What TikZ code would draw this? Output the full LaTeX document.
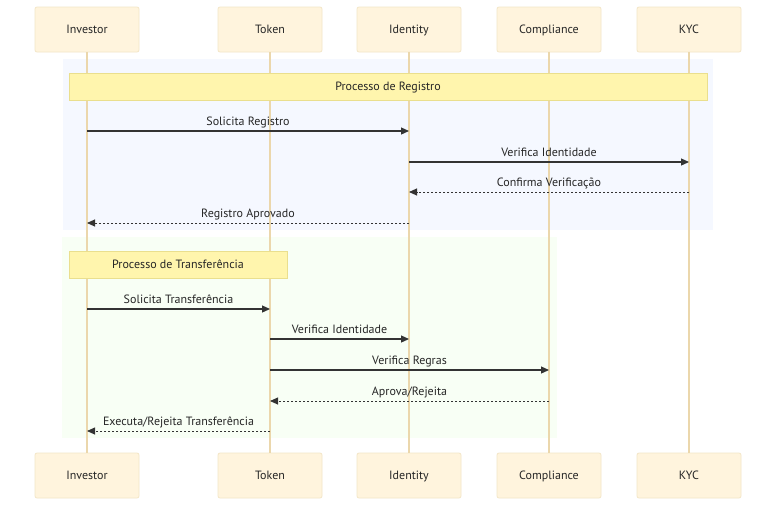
\documentclass[tikz,border=0pt]{standalone}
\usepackage{fontspec}
\setmainfont{PT Sans}
\usetikzlibrary{arrows.meta}
\definecolor{actorfill}{HTML}{FFF4DD}
\definecolor{actorline}{HTML}{F3E6C8}
\definecolor{lifeline}{HTML}{EBD7AC}
\definecolor{notefill}{HTML}{FFF5AD}
\definecolor{noteline}{HTML}{EADF8E}
\definecolor{regbg}{HTML}{F5F8FF}
\definecolor{trbg}{HTML}{F8FFF5}
\definecolor{msg}{HTML}{333333}
\begin{document}
\begin{tikzpicture}[x=1pt,y=-1pt,
  actor/.style={draw=actorline,fill=actorfill,rounded corners=2pt,line width=0.8pt,
    minimum width=104pt,minimum height=45pt,inner sep=0pt,text height=8.5pt,text depth=0pt,
    font=\fontsize{12}{14}\selectfont,text=black!85},
  lline/.style={draw=lifeline,line width=1.2pt},
  notebox/.style={draw=noteline,fill=notefill,line width=0.8pt,inner sep=0pt,text height=8.5pt,text depth=0pt,
    font=\fontsize{12}{14}\selectfont,text=black!85},
  sync/.style={draw=msg,line width=1.2pt,-{Triangle[length=8pt,width=7pt]}},
  reply/.style={draw=msg,line width=0.9pt,dash pattern=on 2pt off 2pt,-{Triangle[length=8pt,width=7pt]}},
  mlabel/.style={font=\fontsize{12}{14}\selectfont,text=black!85,anchor=base},
]
\useasboundingbox (0,0) rectangle (784,512);
\fill[white] (0,0) rectangle (784,512);

% group backgrounds
\fill[regbg] (63,59) rectangle (713,230);
\fill[trbg] (62,237) rectangle (557,438);

% participant columns
\foreach \n/\t/\x in {inv/Investor/87, tok/Token/270, idn/Identity/409, cmp/Compliance/549, kyc/KYC/689}{
  \node[actor] (\n T) at (\x,29.5) {\t};
  \node[actor] (\n B) at (\x,475.5) {\t};
  \draw[lline] (\n T.south) -- (\n B.north);
  \coordinate (\n) at (\x,0);
}

% section headers
\node[notebox,minimum width=638pt,minimum height=27pt] (hreg) at (388,86.5) {Processo de Registro};
\node[notebox,minimum width=218pt,minimum height=27pt] (htr) at (178,264.5) {Processo de Transferência};

% message arrow with its label above the middle
\newcommand{\msgline}[5]{% style, from, to, y, label
  \draw[#1] (#2 |- 0,#4) -- (#3 |- 0,#4);
  \path (#2 |- 0,#4) -- (#3 |- 0,#4) node[midway,mlabel,yshift=6pt] {#5};
}
% registration
\msgline{sync}{inv}{idn}{131}{Solicita Registro}
\msgline{sync}{idn}{kyc}{162}{Verifica Identidade}
\msgline{reply}{kyc}{idn}{192}{Confirma Verificação}
\msgline{reply}{idn}{inv}{223}{Registro Aprovado}

% transfer
\msgline{sync}{inv}{tok}{309}{Solicita Transferência}
\msgline{sync}{tok}{idn}{339}{Verifica Identidade}
\msgline{sync}{tok}{cmp}{370}{Verifica Regras}
\msgline{reply}{cmp}{tok}{401}{Aprova/Rejeita}
\msgline{reply}{tok}{inv}{431}{Executa/Rejeita Transferência}
\end{tikzpicture}
\end{document}
